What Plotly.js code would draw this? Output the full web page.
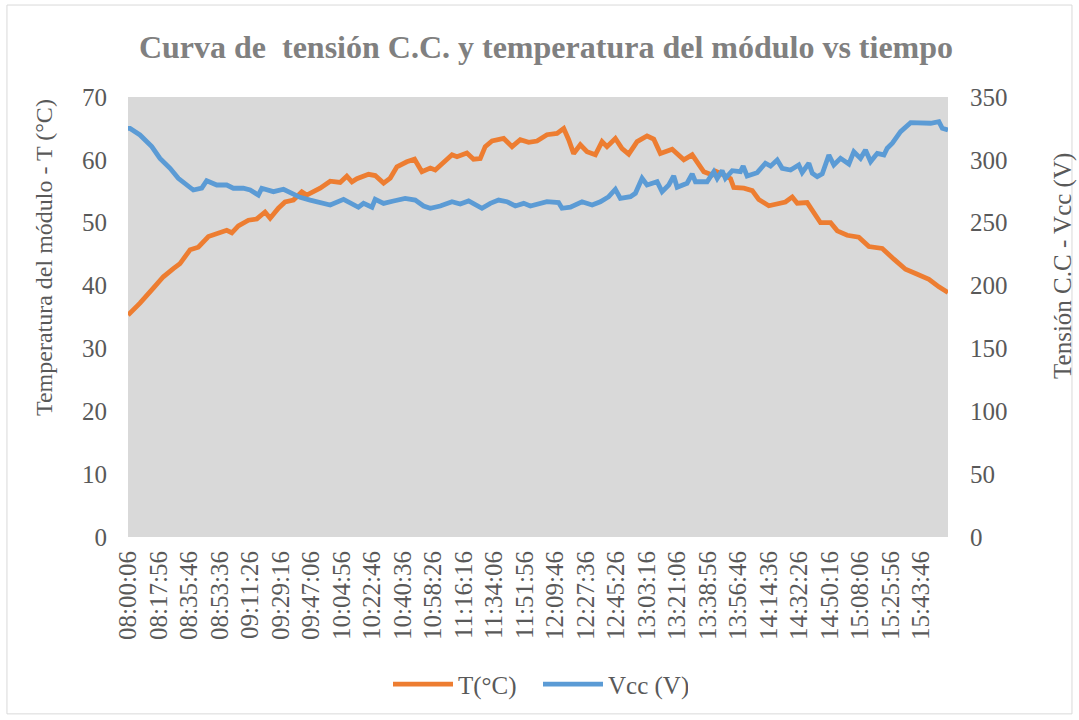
<!DOCTYPE html>
<html>
<head>
<meta charset="utf-8">
<script src="https://cdn.plot.ly/plotly-3.0.1.min.js"></script>
<style>html,body{margin:0;padding:0;background:#fff;}#chart{width:1079px;height:720px;}</style>
</head>
<body>
<div id="chart"></div>
<script>
// Tick labels (category labels shown on the time axis)
const tickLabels = ["08:00:06","08:17:56","08:35:46","08:53:36","09:11:26","09:29:16","09:47:06","10:04:56","10:22:46","10:40:36","10:58:26","11:16:16","11:34:06","11:51:56","12:09:46","12:27:36","12:45:26","13:03:16","13:21:06","13:38:56","13:56:46","14:14:36","14:32:26","14:50:16","15:08:06","15:25:56","15:43:46"];
const timeStart = "08:00:06";
const timeEnd = "15:59:26";

// Module temperature T (°C)
const timeT = ["08:00:06","08:07:06","08:14:54","08:20:45","08:26:36","08:30:30","08:36:24","08:41:12","08:47:06","08:52:00","08:57:48","09:00:48","09:04:36","09:10:30","09:15:24","09:20:12","09:23:12","09:28:00","09:31:54","09:36:48","09:41:42","09:44:36","09:48:30","09:52:24","09:58:18","10:04:06","10:08:00","10:11:00","10:13:54","10:20:42","10:24:36","10:29:30","10:33:24","10:37:18","10:43:06","10:47:36","10:51:54","10:56:48","10:59:42","11:04:36","11:09:30","11:12:24","11:18:12","11:22:06","11:26:00","11:28:54","11:32:54","11:39:42","11:44:36","11:49:24","11:54:18","11:59:12","12:05:00","12:10:54","12:14:48","12:17:42","12:20:36","12:24:30","12:28:24","12:33:18","12:37:12","12:40:06","12:45:00","12:48:54","12:52:48","12:57:42","13:03:30","13:07:24","13:11:18","13:18:12","13:25:00","13:29:54","13:36:42","13:41:36","13:43:30","13:48:24","13:52:18","13:54:12","14:00:06","14:05:00","14:08:48","14:14:42","14:19:36","14:24:24","14:28:24","14:31:18","14:37:06","14:41:00","14:44:54","14:50:48","14:54:42","15:00:30","15:07:18","15:13:12","15:21:00","15:27:48","15:34:36","15:41:30","15:48:18","15:54:06","15:59:26"];
const tempT = [35.3,37.2,39.6,41.4,42.7,43.5,45.7,46.1,47.8,48.3,48.8,48.4,49.5,50.4,50.6,51.7,50.7,52.3,53.3,53.6,54.9,54.4,54.9,55.5,56.6,56.4,57.4,56.5,57.0,57.7,57.5,56.3,57.1,58.9,59.7,60.1,58.1,58.7,58.4,59.7,60.8,60.5,61.1,60.1,60.2,62.1,63.0,63.4,62.1,63.2,62.8,63.0,64.0,64.2,65.0,63.2,61.0,62.4,61.3,60.8,62.9,62.1,63.4,61.8,60.9,62.9,63.8,63.3,61.0,61.7,60.0,60.8,58.1,57.6,58.2,57.6,57.0,55.6,55.5,55.1,53.7,52.7,53.0,53.3,54.1,53.1,53.2,51.7,50.0,50.0,48.7,48.0,47.7,46.2,45.9,44.2,42.6,41.8,41.0,39.8,38.9];

// DC voltage Vcc (V)
const timeV = ["08:00:06","08:01:18","08:07:06","08:14:00","08:18:48","08:24:42","08:29:30","08:33:24","08:38:18","08:43:12","08:46:06","08:52:00","08:57:48","09:01:42","09:07:30","09:11:30","09:16:18","09:18:18","09:25:06","09:31:00","09:35:54","09:40:42","09:46:36","09:52:24","09:58:18","10:06:06","10:14:48","10:17:48","10:22:42","10:24:36","10:29:30","10:35:18","10:42:06","10:48:00","10:52:54","10:56:48","11:02:36","11:09:30","11:14:18","11:19:12","11:23:06","11:27:00","11:31:54","11:36:42","11:41:36","11:46:30","11:51:24","11:55:18","12:05:00","12:11:48","12:13:48","12:18:42","12:25:30","12:31:24","12:36:12","12:41:06","12:45:00","12:47:54","12:53:48","12:56:42","13:00:36","13:03:30","13:09:24","13:12:18","13:16:12","13:19:06","13:21:06","13:26:54","13:29:54","13:31:48","13:38:36","13:42:30","13:44:30","13:47:24","13:49:18","13:53:18","13:58:06","13:59:42","14:02:00","14:07:54","14:12:42","14:15:42","14:19:36","14:22:30","14:27:24","14:32:12","14:34:12","14:38:06","14:40:06","14:43:00","14:45:54","14:49:48","14:52:42","14:56:36","15:01:30","15:04:24","15:08:18","15:11:12","15:14:12","15:18:06","15:22:00","15:23:54","15:26:54","15:31:42","15:37:36","15:43:24","15:49:18","15:54:06","15:56:06","15:59:26"];
const voltV = [325,325,319.8,310.5,301.2,293.3,285.3,281.3,276,277.5,283.4,280,280,277.4,277.4,276,272,277.4,274.7,276.6,273.4,270.2,268,266,264.1,268.6,262.3,265.4,262.3,268.6,265.4,267.3,269.4,268,263.3,261.5,263.3,266.7,264.9,267.3,264.1,261.5,265.4,268,266.7,263.3,265.4,263.3,266.7,266,261.5,262.3,266.7,264.1,266.7,270.7,276.6,269.4,270.7,273.4,285.3,280,282.6,274.7,280,287.2,278.2,281.4,288.8,282.6,282.6,290.6,285.3,291.4,285.3,291.4,290.6,295.1,287.2,289.8,297.3,295,299.9,293.3,291.9,295.9,290,297.3,289.3,286.6,288.8,303.9,295.9,301.2,296.7,306.5,301.2,307.8,298.6,305.2,303.9,309.2,313.2,322.4,329.6,329.6,329.1,330.4,325.1,323.8];

const yTitleLeft = "Temperatura del módulo - T (°C)";
const yTitleRight = "Tensión C.C - Vcc (V)";

const day = "2024-01-01 ";
const toDate = t => day + t;

const font = "'Liberation Serif', 'Times New Roman', serif";
const txt = "#595959";

const traces = [
  {x: timeT.map(toDate), y: tempT, type: "scatter", mode: "lines", name: "T(°C)",
   line: {color: "#ED7D31", width: 4.8}, yaxis: "y"},
  {x: timeV.map(toDate), y: voltV, type: "scatter", mode: "lines", name: "Vcc (V)",
   line: {color: "#5B9BD5", width: 4.8}, yaxis: "y2"}
];

const layout = {
  width: 1079, height: 720,
  margin: {l: 128, r: 131, t: 97, b: 183},
  paper_bgcolor: "#ffffff",
  plot_bgcolor: "#D9D9D9",
  font: {family: font, color: txt, size: 25},
  showlegend: true,
  hovermode: false,
  title: {text: "Curva de  tensión C.C. y temperatura del módulo vs tiempo",
          font: {family: font, size: 32, color: "#808080", weight: "bold"},
          x: 0.506, xanchor: "center", y: 0.935, yanchor: "middle"},
  xaxis: {
    type: "date",
    range: [toDate(timeStart), toDate(timeEnd)],
    tickmode: "array",
    tickvals: tickLabels.map(toDate),
    ticktext: tickLabels,
    tickangle: -90,
    tickfont: {family: font, size: 25, color: txt},
    showgrid: false, zeroline: false, showline: false, ticks: "",
    ticklabelstandoff: 8
  },
  yaxis: {
    range: [0, 70], dtick: 10, tickmode: "linear", tick0: 0,
    showgrid: false, zeroline: false, showline: false, ticks: "",
    tickfont: {family: font, size: 25, color: txt},
    ticklabelstandoff: 20
  },
  yaxis2: {
    range: [0, 350], dtick: 50, tickmode: "linear", tick0: 0,
    overlaying: "y", side: "right",
    showgrid: false, zeroline: false, showline: false, ticks: "",
    tickfont: {family: font, size: 25, color: txt},
    ticklabelstandoff: 21
  },
  annotations: [
    {text: yTitleLeft, textangle: -90, xref: "paper", yref: "paper", x: -0.1024, y: 0.634,
     xanchor: "center", yanchor: "middle", showarrow: false, font: {family: font, size: 24, color: txt}},
    {text: yTitleRight, textangle: -90, xref: "paper", yref: "paper", x: 1.1402, y: 0.616,
     xanchor: "center", yanchor: "middle", showarrow: false, font: {family: font, size: 25, color: txt}}
  ],
  legend: {orientation: "h", x: 0.5, xanchor: "center", y: -0.335, yanchor: "middle",
           itemwidth: 60, entrywidth: 75, entrywidthmode: "pixels",
           font: {family: font, size: 25, color: txt}, bgcolor: "rgba(0,0,0,0)"},
  shapes: [
    {type: "rect", xref: "paper", yref: "paper", x0: -0.1476, x1: 1.1512, y0: -0.402, y1: 1.209,
     line: {color: "#D9D9D9", width: 1}, fillcolor: "rgba(0,0,0,0)", layer: "below"}
  ]
};

Plotly.newPlot("chart", traces, layout, {displayModeBar: false, staticPlot: true});
</script>
</body>
</html>
